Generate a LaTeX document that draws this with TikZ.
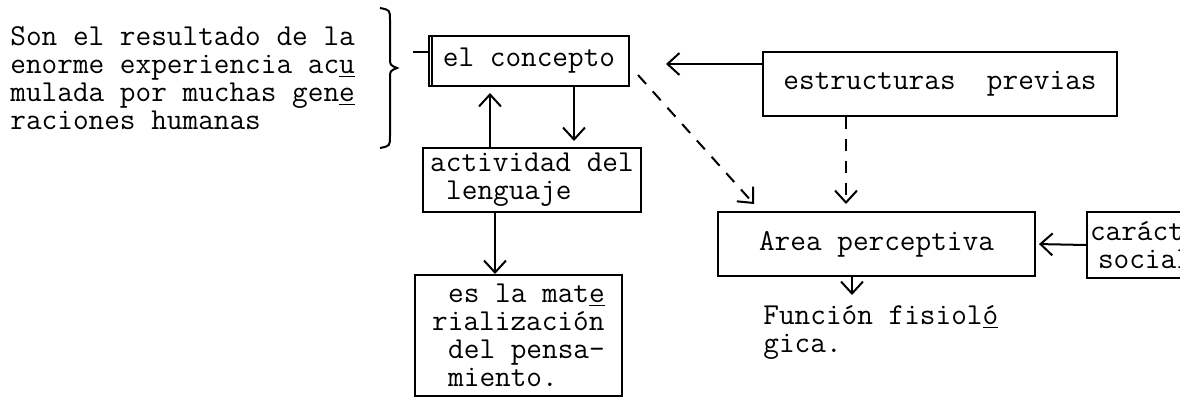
\documentclass[tikz,border=0pt]{standalone}
\usepackage{xcolor}
\usepackage{tikz}
\usetikzlibrary{arrows.meta}
\newcommand{\tyspace}{\hspace*{0.525em}}

\begin{document}
\begin{tikzpicture}[x=0.5pt,y=-0.5pt,font=\ttfamily\fontsize{15.2}{14}\selectfont]
	\tikzstyle{box} = [draw, line width=1pt, inner sep=0pt, align=left]
	\tikzstyle{note} = [inner sep=0pt, align=left, anchor=north west]
	\tikzset{edge/.style = {line width=1pt, -{Straight Barb[length=6pt,width=11pt]}}}
	\tikzset{hint/.style = {edge, dash pattern=on 6pt off 5pt}}

	\clip (0,0) rectangle (1180,398);

	\node[note](resultado) at (10,26) {Son el resultado de la\\enorme experiencia ac\underline{u}\\mulada por muchas gen\underline{e}\\raciones humanas};
	\draw[line width=1pt] (380,8) .. controls (390,10) .. (390,20) -- (390,58) .. controls (390,65) .. (397,68) .. controls (390,71) .. (390,78) -- (390,136) .. controls (390,146) .. (380,148);

	\node[box, minimum width=100pt, minimum height=25pt](concept) at (529,61) {el concepto};
	\draw[line width=1pt] ([xshift=2pt]concept.north west) -- ([xshift=2pt]concept.south west);
	\coordinate (llave) at (413,52);
	\draw[line width=1pt](llave) to (llave -| concept.west);

	\node[box, minimum width=109pt, minimum height=32pt](actividad) at (532,180) {actividad del\\\tyspace lenguaje};
	\node[box, minimum width=103.5pt, minimum height=60.5pt](materia) at (518.5,335.5) {\tyspace es la mat\underline{e}\\rialización\\\tyspace del pensa-\\\tyspace miento.};
	\node[box, minimum width=177pt, minimum height=32pt](previas) at (940,84) {estructuras\ \ previas};
	\node[box, minimum width=158.5pt, minimum height=32pt](area) at (876.5,244) {Area perceptiva};
	\node[box, minimum height=33pt, anchor=west, inner xsep=1.5pt](caracter) at (1086,245) {carácter\\\hspace*{4pt}social};
	\node[note](funcion) at (763,305) {Función fisiol\underline{ó}\\gica.};

	\coordinate (subida) at ([xshift=-21pt]actividad.north);
	\coordinate (bajada) at ([xshift=22.5pt]concept.south);
	\coordinate (salida) at ([xshift=-18.5pt]actividad.south);
	\draw[edge, shorten >=3pt](subida) to (subida |- concept.south);
	\draw[edge, shorten >=3pt](bajada) to (bajada |- actividad.north);
	\draw[edge](salida) to (salida |- materia.north);

	\coordinate (origen) at ([yshift=-6.5pt]previas.north west);
	\draw[edge, shorten >=18pt](origen) to (origen -| concept.east);
	\draw[hint]([shift={(4pt,-7pt)}]concept.east) to ([shift={(18.5pt,3.5pt)}]area.north west);
	\coordinate (bajo) at ([xshift=-47pt]previas.south);
	\draw[hint, shorten >=3.5pt](bajo) to (bajo |- area.north);
	\draw[edge, shorten >=1.5pt](caracter.west) to (area.east);
	\coordinate (fin) at ([xshift=-12.25pt]area.south);
	\draw[edge, shorten >=5pt](fin) to (fin |- funcion.north);

\end{tikzpicture}
\end{document}
